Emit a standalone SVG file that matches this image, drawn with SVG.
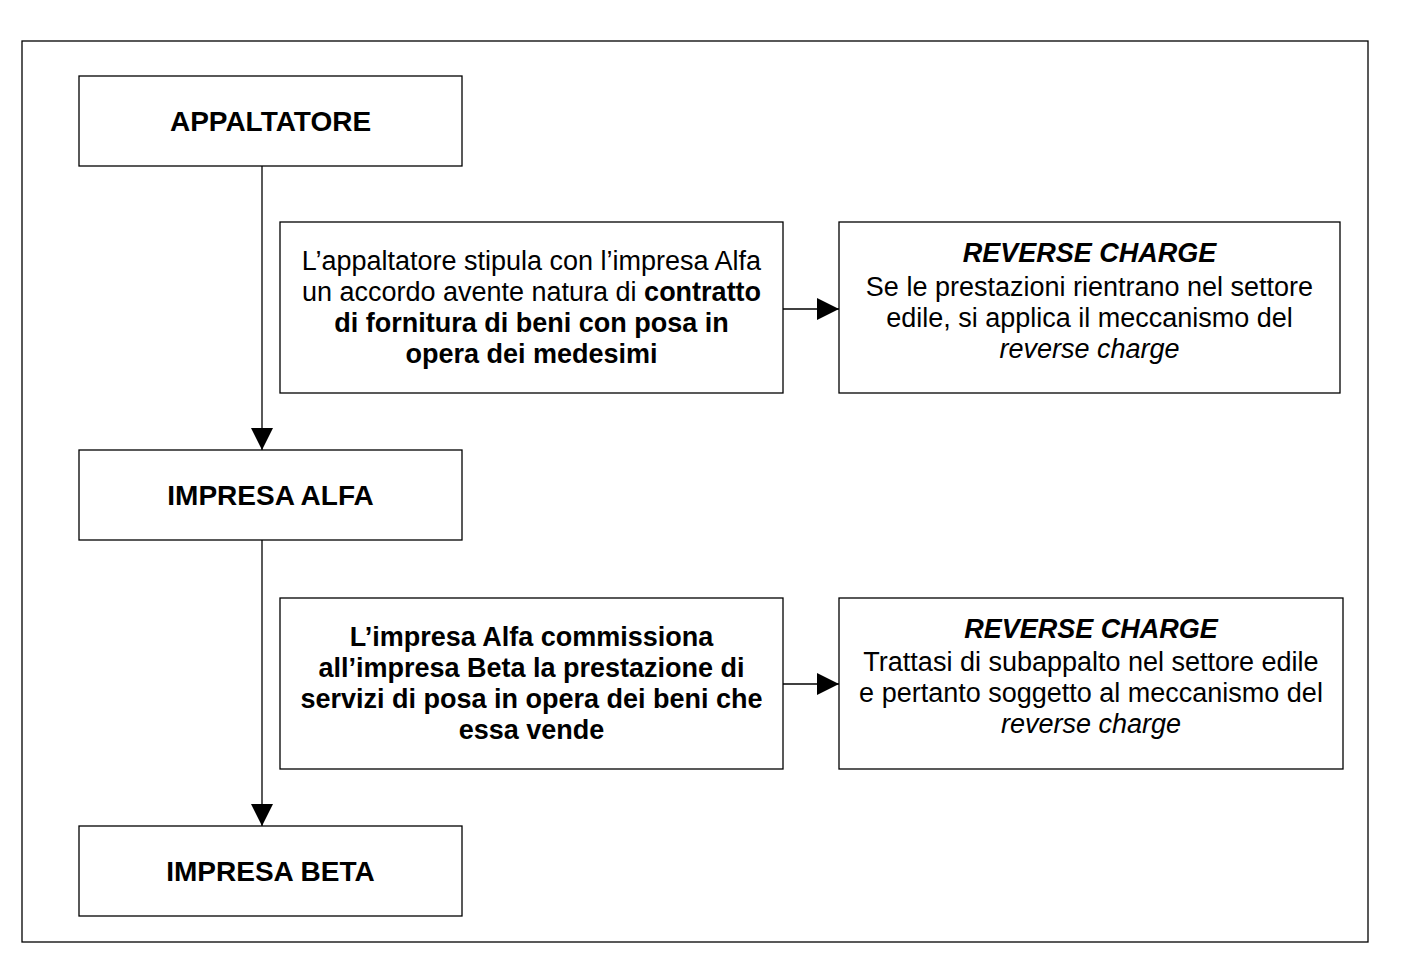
<svg xmlns="http://www.w3.org/2000/svg" width="1407" height="971" viewBox="0 0 1407 971">
<defs>
<style>
.box{fill:#fff;stroke:#000;stroke-width:1.3}
.t{font-family:"Liberation Sans",Arial,sans-serif;font-size:27px;fill:#000;text-anchor:middle}
.n{font-size:28px}
.b{font-weight:bold}
.i{font-style:italic}
.c{stroke:#000;stroke-width:1.3;fill:none}
</style>
<marker id="ah" markerWidth="22" markerHeight="22" refX="22" refY="11" orient="auto" markerUnits="userSpaceOnUse">
<path d="M0,0 L22,11 L0,22 Z" fill="#000"/>
</marker>
</defs>
<rect width="1407" height="971" fill="#fff"/>
<rect x="22" y="41" width="1346" height="901" fill="none" stroke="#000" stroke-width="1.3"/>
<g id="connectors">
<line class="c" x1="262" y1="166" x2="262" y2="450" marker-end="url(#ah)"/>
<line class="c" x1="262" y1="540" x2="262" y2="826" marker-end="url(#ah)"/>
<line class="c" x1="783" y1="309" x2="839" y2="309" marker-end="url(#ah)"/>
<line class="c" x1="783" y1="684" x2="839" y2="684" marker-end="url(#ah)"/>
</g>
<g id="appaltatore">
<rect class="box" x="79" y="76" width="383" height="90"/>
<text class="t n b" x="270.5" y="131">APPALTATORE</text>
</g>
<g id="impresa-alfa">
<rect class="box" x="79" y="450" width="383" height="90"/>
<text class="t n b" x="270.5" y="505">IMPRESA ALFA</text>
</g>
<g id="impresa-beta">
<rect class="box" x="79" y="826" width="383" height="90"/>
<text class="t n b" x="270.5" y="881">IMPRESA BETA</text>
</g>
<g id="contratto">
<rect class="box" x="280" y="222" width="503" height="171"/>
<text class="t" x="531.5" y="270">L’appaltatore stipula con l’impresa Alfa</text>
<text class="t" x="531.5" y="301">un accordo avente natura di <tspan class="b">contratto</tspan></text>
<text class="t b" x="531.5" y="332">di fornitura di beni con posa in</text>
<text class="t b" x="531.5" y="363">opera dei medesimi</text>
</g>
<g id="reverse-charge-1">
<rect class="box" x="839" y="222" width="501" height="171"/>
<text class="t b i" x="1089.5" y="262">REVERSE CHARGE</text>
<text class="t" x="1089.5" y="296">Se le prestazioni rientrano nel settore</text>
<text class="t" x="1089.5" y="327">edile, si applica il meccanismo del</text>
<text class="t i" x="1089.5" y="358">reverse charge</text>
</g>
<g id="subappalto">
<rect class="box" x="280" y="598" width="503" height="171"/>
<text class="t b" x="531.5" y="646">L’impresa Alfa commissiona</text>
<text class="t b" x="531.5" y="677">all’impresa Beta la prestazione di</text>
<text class="t b" x="531.5" y="708">servizi di posa in opera dei beni che</text>
<text class="t b" x="531.5" y="739">essa vende</text>
</g>
<g id="reverse-charge-2">
<rect class="box" x="839" y="598" width="504" height="171"/>
<text class="t b i" x="1091" y="638">REVERSE CHARGE</text>
<text class="t" x="1091" y="671">Trattasi di subappalto nel settore edile</text>
<text class="t" x="1091" y="702">e pertanto soggetto al meccanismo del</text>
<text class="t i" x="1091" y="733">reverse charge</text>
</g>
</svg>
